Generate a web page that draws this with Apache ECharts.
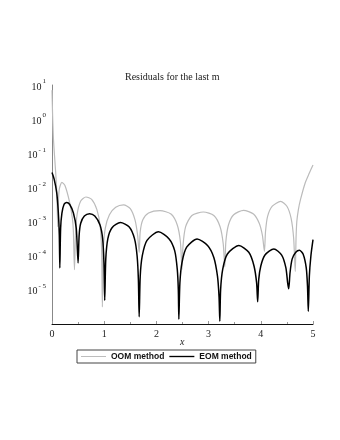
<!DOCTYPE html>
<html>
<head>
<meta charset="utf-8">
<script src="https://cdn.jsdelivr.net/npm/echarts@6/dist/echarts.min.js"></script>
<style>
  html, body { margin: 0; padding: 0; background: #fff; }
  #chart { width: 340px; height: 440px; }
</style>
</head>
<body>
<div id="chart"></div>
<script>
// residuals, as log10 of the value
var oomX = [0, 0.01, 0.025, 0.045, 0.07, 0.09, 0.10, 0.11,
  0.12, 0.14, 0.19, 0.25, 0.34, 0.39, 0.41, 0.43,
  0.45, 0.48, 0.55, 0.65, 0.76, 0.86, 0.92, 0.95, 0.965,
  0.98, 1.02, 1.10, 1.22, 1.37, 1.50, 1.59, 1.64, 1.67,
  1.69, 1.74, 1.85, 2.07, 2.28, 2.40, 2.46, 2.49,
  2.51, 2.56, 2.68, 2.90, 3.10, 3.22, 3.28, 3.31,
  3.33, 3.38, 3.48, 3.67, 3.86, 3.97, 4.03, 4.07,
  4.09, 4.13, 4.22, 4.38, 4.50, 4.58, 4.63, 4.66,
  4.675, 4.69, 4.72, 4.76, 4.85, 4.93, 5.0];
var oomLog = [0.85, 0.2, -0.5, -1.0, -1.55, -2.1, -2.6, -3.15,
  -2.5, -2.05, -1.85, -1.95, -2.45, -2.9, -3.3, -4.41,
  -3.4, -2.8, -2.4, -2.28, -2.35, -2.65, -3.1, -3.8, -5.5,
  -3.9, -3.2, -2.8, -2.58, -2.51, -2.62, -2.95, -3.4, -3.9,
  -3.3, -2.95, -2.75, -2.68, -2.78, -3.1, -3.6, -4.4,
  -3.7, -3.15, -2.82, -2.72, -2.82, -3.15, -3.65, -4.33,
  -3.6, -3.1, -2.8, -2.67, -2.78, -3.05, -3.4, -3.87,
  -3.3, -2.85, -2.55, -2.41, -2.55, -2.9, -3.5, -4.46,
  -3.5, -3.0, -2.65, -2.36, -1.87, -1.58, -1.34];

var eomX = [0, 0.04, 0.09, 0.12, 0.14, 0.15,
  0.165, 0.19, 0.23, 0.28, 0.34, 0.41, 0.465, 0.50,
  0.52, 0.55, 0.62, 0.72, 0.82, 0.92, 0.97, 0.995, 1.01,
  1.03, 1.07, 1.15, 1.31, 1.48, 1.58, 1.63, 1.655, 1.67,
  1.69, 1.73, 1.82, 2.04, 2.24, 2.35, 2.40, 2.42, 2.43,
  2.45, 2.49, 2.58, 2.78, 2.98, 3.10, 3.17, 3.20, 3.215,
  3.23, 3.27, 3.36, 3.58, 3.77, 3.87, 3.92, 3.94,
  3.96, 4.00, 4.08, 4.25, 4.40, 4.48, 4.515, 4.535,
  4.56, 4.60, 4.67, 4.74, 4.81, 4.87, 4.895, 4.91,
  4.93, 4.96, 5.0];
var eomLog = [-1.56, -1.75, -2.15, -2.7, -3.4, -4.36,
  -3.2, -2.75, -2.5, -2.44, -2.5, -2.75, -3.2, -4.21,
  -3.4, -3.05, -2.84, -2.77, -2.84, -3.1, -3.5, -4.2, -5.31,
  -4.1, -3.5, -3.18, -3.03, -3.16, -3.5, -4.0, -4.7, -5.79,
  -4.6, -4.0, -3.55, -3.3, -3.5, -3.85, -4.4, -5.0, -5.86,
  -4.8, -4.2, -3.75, -3.51, -3.7, -4.05, -4.6, -5.2, -5.92,
  -5.0, -4.4, -3.95, -3.70, -3.9, -4.3, -4.8, -5.35,
  -4.7, -4.3, -3.98, -3.80, -3.98, -4.35, -4.8, -4.97,
  -4.5, -4.1, -3.9, -3.84, -3.95, -4.35, -4.9, -5.63,
  -4.6, -4.0, -3.53];

var yTickExp = [1, 0, -1, -2, -3, -4, -5];

function pairs(xs, ls) {
  return xs.map(function (x, i) { return [x, Math.pow(10, ls[i])]; });
}

var myChart = echarts.init(document.getElementById('chart'));
var option;

option = {
  backgroundColor: '#fff',
  animation: false,
  title: {
    text: 'Residuals for the last m',
    left: 120,
    top: 67,
    textStyle: { fontFamily: 'Liberation Serif', fontSize: 10, fontWeight: 'normal', color: '#222' }
  },
  // axis title "x" under the axis labels
  graphic: [{
    type: 'text',
    left: 180,
    top: 337,
    style: { text: 'x', font: 'italic 10px "Liberation Serif"', fill: '#222' }
  }],
  legend: {
    left: 77,
    top: 350,
    itemWidth: 25,
    itemHeight: 8,
    itemGap: 5,
    padding: [2, 4],
    borderColor: '#444',
    borderWidth: 1,
    borderRadius: 0,
    textStyle: { fontFamily: 'Liberation Sans', fontSize: 8.5, fontWeight: 'bold', color: '#111' },
    data: [
      { name: 'OOM method', icon: 'path://M0,0 L26,0 L26,1 L0,1 Z' },
      { name: 'EOM method', icon: 'path://M0,0 L26,0 L26,1.4 L0,1.4 Z' }
    ]
  },
  grid: { left: 52, right: 27, top: 85, bottom: 116 },
  xAxis: {
    type: 'value',
    min: 0,
    max: 5,
    interval: 1,
    axisLine: { lineStyle: { color: '#111', width: 1 } },
    axisTick: { show: true, inside: true, length: 3, lineStyle: { color: '#999' } },
    minorTick: { show: true, splitNumber: 2, length: 2, lineStyle: { color: '#999' } },
    splitLine: { show: false },
    axisLabel: { fontFamily: 'Liberation Serif', fontSize: 10, color: '#222', margin: 5 }
  },
  yAxis: {
    type: 'log',
    logBase: 10,
    min: 1e-6,
    max: 10,
    axisLine: { show: true, lineStyle: { color: '#888', width: 1 } },
    axisTick: { show: false },
    splitLine: { show: false },
    axisLabel: {
      fontFamily: 'Liberation Serif',
      color: '#222',
      margin: 6,
      formatter: function (v) {
        var e = Math.round(Math.log10(v));
        if (yTickExp.indexOf(e) < 0) return '';
        return '{b|10}{s|' + (e < 0 ? '- ' + (-e) : e) + '}';
      },
      rich: {
        b: { fontFamily: 'Liberation Serif', fontSize: 10, lineHeight: 14, verticalAlign: 'bottom', color: '#222' },
        s: { fontFamily: 'Liberation Serif', fontSize: 7, lineHeight: 14, verticalAlign: 'top', color: '#222', padding: [0, 0, 0, 1] }
      }
    }
  },
  series: [
    {
      name: 'OOM method',
      type: 'line',
      data: pairs(oomX, oomLog),
      showSymbol: false,
      smooth: 0.25,
      color: '#bbb',
      lineStyle: { color: '#bbb', width: 1.2 }
    },
    {
      name: 'EOM method',
      type: 'line',
      data: pairs(eomX, eomLog),
      showSymbol: false,
      smooth: 0.25,
      color: '#000',
      lineStyle: { color: '#000', width: 1.5 }
    }
  ]
};
myChart.setOption(option);
</script>
</body>
</html>
